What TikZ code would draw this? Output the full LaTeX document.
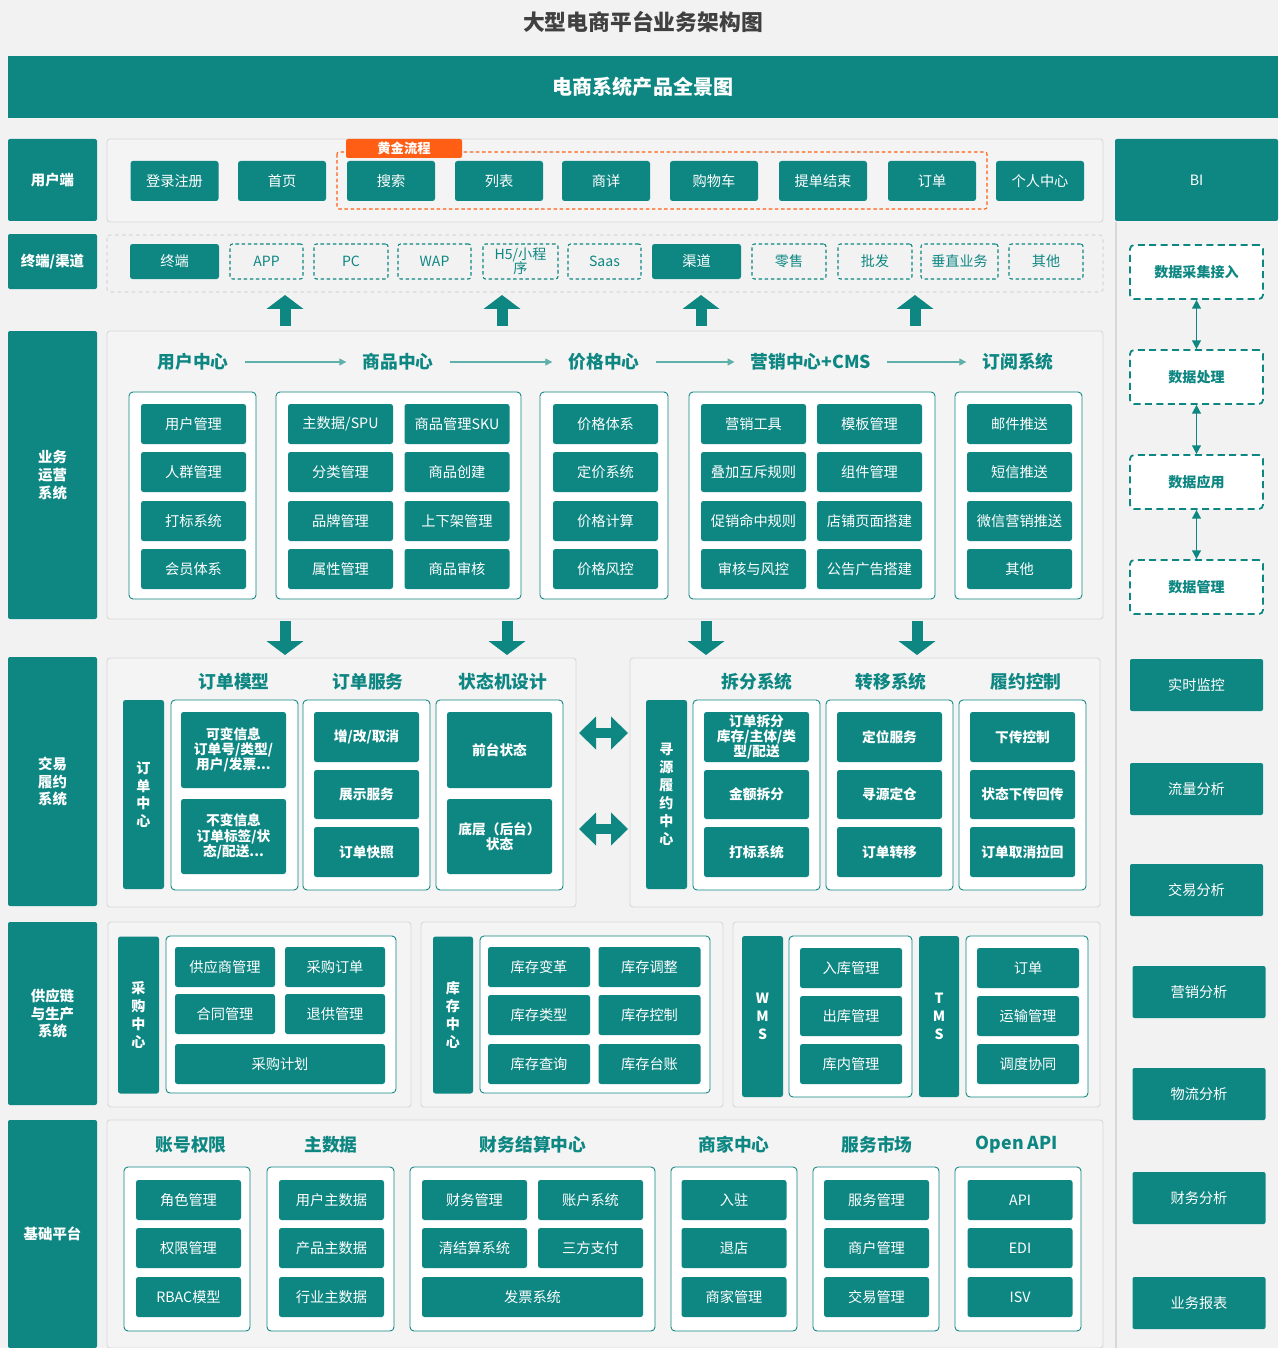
\documentclass[tikz,border=0pt]{standalone}
\usepackage{fontspec}
\setmainfont{Noto Sans CJK SC}
\usetikzlibrary{arrows.meta}

\definecolor{tealc}{RGB}{14,135,131}
\definecolor{bgc}{RGB}{242,242,242}
\definecolor{panelc}{RGB}{244,244,244}
\definecolor{linec}{RGB}{216,216,216}
\definecolor{goldc}{RGB}{255,94,20}
\definecolor{titlec}{RGB}{64,64,64}
\definecolor{flowc}{RGB}{95,175,170}

\begin{document}
\begin{tikzpicture}[x=0.02cm,y=-0.02cm,
    wh/.style 2 args={minimum width=#1*0.02cm,minimum height=#2*0.02cm},
    cell/.style={fill=tealc,text=white,rounded corners=0.05cm,inner sep=1pt,align=center,font=\fontsize{8.1}{9}\selectfont},
    tcell/.style={cell,font=\fontsize{7.8}{8.7}\selectfont\bfseries},
    sidelab/.style={cell,rounded corners=0.04cm,font=\fontsize{8.2}{10.2}\selectfont\bfseries},
    vbar/.style={cell,font=\fontsize{8}{10.2}\selectfont\bfseries},
    ghostcell/.style={draw=tealc,dash pattern=on 2pt off 1.5pt,line width=0.6pt,text=tealc,rounded corners=0.05cm,inner sep=1pt,align=center,font=\fontsize{8}{8.2}\selectfont},
    datacell/.style={draw=tealc,fill=white,line width=1pt,dash pattern=on 4pt off 2.5pt,rounded corners=0.08cm,text=tealc,font=\fontsize{8}{9}\selectfont\bfseries},
    hdr/.style={text=tealc,font=\fontsize{10.1}{12}\selectfont\bfseries},
    panel/.style={draw=linec,fill=panelc,line width=0.5pt,rounded corners=0.06cm},
    grp/.style={draw=tealc,fill=white,line width=0.5pt,rounded corners=0.08cm},
    flow/.style={draw=flowc,line width=0.8pt,-{Triangle[length=4pt,width=4pt]},shorten <=0.2cm,shorten >=0.2cm},
    blk/.style={draw=tealc,line width=0.22cm,-{Triangle[length=0.28cm,width=0.74cm,line width=0pt]}},
    dblk/.style={draw=tealc,line width=0.2cm,{Triangle[length=0.34cm,width=0.66cm,line width=0pt]}-{Triangle[length=0.34cm,width=0.66cm,line width=0pt]}},
    biarrow/.style={draw=tealc,line width=1pt,{Triangle[length=5pt,width=5pt]}-{Triangle[length=5pt,width=5pt]}}]

  \useasboundingbox[fill=bgc] (0,0) rectangle (1278,1348);

  \node[font=\fontsize{12.4}{14}\selectfont\bfseries,text=titlec] (title) at (643,22) {大型电商平台业务架构图};
  \node[fill=tealc,wh={1270}{62},inner sep=0,text=white,font=\fontsize{11.4}{13}\selectfont\bfseries] (banner) at (643,87) {电商系统产品全景图};

  \foreach \n/\y/\h/\t in {s1/180/82/用户端,s2/261.5/55/{终端/渠道},s3/475/288/{业务\\运营\\系统},s4/781.5/249/{交易\\履约\\系统},s5/1013.5/183/{供应链\\与生产\\系统},s6/1234/228/基础平台}
    \node[sidelab,wh={89}{\h}] (\n) at (52.5,\y) {\t};

  \draw[panel] (107,139) rectangle (1103,222);
  \draw[draw=goldc,dash pattern=on 2pt off 1.5pt,line width=0.6pt,rounded corners=0.04cm] (337,152) rectangle (987,209);
  \foreach \n/\x/\t in {a1/174.5/登录注册,a2/282/首页,a3/391/搜索,a4/499/列表,a5/606/商详,a6/714/购物车,a7/823/提单结束,a8/932/订单,a9/1040/个人中心}
    \node[cell,wh={88}{40}] (\n) at (\x,181) {\t};
  \node[fill=goldc,text=white,rounded corners=0.04cm,wh={116}{19},inner sep=0,font=\fontsize{7.6}{8}\selectfont\bfseries] (gold) at (404,148.5) {黄金流程};

  \node[cell,wh={163}{82},rounded corners=0.04cm] (bi) at (1196.5,180) {BI};
  \draw[linec,line width=0.8pt] (1116,222) -- (1116,1348);

  \draw[draw=linec,dash pattern=on 2pt off 2pt,line width=0.6pt,rounded corners=0.06cm] (107,235) rectangle (1103,292);
  \node[cell,wh={89}{35}] (t0) at (174.5,261.5) {终端};
  \node[cell,wh={89}{35}] (c0) at (696.5,261.5) {渠道};
  \foreach \n/\x/\w/\t in {t1/266.5/73/APP,t2/351/74/PC,t3/434.5/73/WAP,t4/520.5/75/{H5/小程\\序},t5/604.5/73/Saas,c1/789/74/零售,c2/875/74/批发,c3/959.5/77/垂直业务,c4/1046/74/其他}
    \node[ghostcell,wh={\w}{35}] (\n) at (\x,261.5) {\t};

  \foreach \i/\x in {1/285,2/502,3/701,4/915} {
    \coordinate (ua\i) at (\x,326);
    \coordinate (ub\i) at (\x,295);
    \draw[blk] (ua\i) -- (ub\i);
  }

  \draw[panel] (107,331) rectangle (1103,619);
  \foreach \n/\x/\t in {h1/193/用户中心,h2/398/商品中心,h3/604/价格中心,h4/811/营销中心+CMS,h5/1018/订阅系统}
    \node[hdr] (\n) at (\x,362) {\t};
  \foreach \a/\b in {h1/h2,h2/h3,h3/h4,h4/h5}
    \draw[flow] (\a) -- (\b);
  \foreach \a/\b in {129/256,276/521,540/668,689/935,955/1082}
    \draw[grp] (\a,392) rectangle (\b,599);
  \foreach \n/\x/\y/\t in {m1/193.5/424/用户管理,m2/193.5/472/人群管理,m3/193.5/521/打标系统,m4/193.5/569/会员体系,
      g1/340.5/424/{主数据/SPU},g2/457/424/商品管理SKU,g3/340.5/472/分类管理,g4/457/472/商品创建,
      g5/340.5/521/品牌管理,g6/457/521/上下架管理,g7/340.5/569/属性管理,g8/457/569/商品审核,
      p1/605.5/424/价格体系,p2/605.5/472/定价系统,p3/605.5/521/价格计算,p4/605.5/569/价格风控,
      k1/753.5/424/营销工具,k2/869.5/424/模板管理,k3/753.5/472/叠加互斥规则,k4/869.5/472/组件管理,
      k5/753.5/521/促销命中规则,k6/869.5/521/店铺页面搭建,k7/753.5/569/审核与风控,k8/869.5/569/公告广告搭建,
      r1/1019.5/424/邮件推送,r2/1019.5/472/短信推送,r3/1019.5/521/微信营销推送,r4/1019.5/569/其他}
    \node[cell,wh={105}{40}] (\n) at (\x,\y) {\t};

  \foreach \i/\x in {1/285,2/507,3/706,4/917} {
    \coordinate (da\i) at (\x,621);
    \coordinate (db\i) at (\x,655);
    \draw[blk] (da\i) -- (db\i);
  }

  \draw[panel] (107,658) rectangle (576,907);
  \draw[panel] (630,658) rectangle (1100,907);
  \node[vbar,wh={41}{189}] (oc) at (143.5,794.5) {订\\单\\中\\心};
  \node[vbar,wh={41}{189}] (sc) at (666.5,794.5) {寻\\源\\履\\约\\中\\心};
  \foreach \n/\x/\t in {o1/234/订单模型,o2/368/订单服务,o3/503/状态机设计,f1/757/拆分系统,f2/891/转移系统,f3/1026/履约控制}
    \node[hdr] (\n) at (\x,682) {\t};
  \foreach \a/\b in {171/298,303/430,436/563,693/820,826/953,959/1086}
    \draw[grp] (\a,700) rectangle (\b,890);
  \node[tcell,wh={105}{76}] (om1) at (233.5,750) {可变信息\\订单号/类型/\\用户/发票...};
  \node[tcell,wh={105}{75}] (om2) at (233.5,836.5) {不变信息\\订单标签/状\\态/配送...};
  \node[tcell,wh={105}{76}] (st1) at (499.5,750) {前台状态};
  \node[tcell,wh={105}{75}] (st2) at (499.5,836.5) {底层（后台）\\状态};
  \foreach \n/\x/\t in {os/366.5/{增/改/取消},fs/756.5/{订单拆分\\库存/主体/类\\型/配送},ft/889.5/定位服务,fc/1022.5/下传控制}
    \node[tcell,wh={105}{50}] (\n1) at (\x,737) {\t};
  \foreach \n/\x/\t in {os/366.5/展示服务,fs/756.5/金额拆分,ft/889.5/寻源定仓,fc/1022.5/状态下传回传}
    \node[tcell,wh={105}{49}] (\n2) at (\x,794.5) {\t};
  \foreach \n/\x/\t in {os/366.5/订单快照,fs/756.5/打标系统,ft/889.5/订单转移,fc/1022.5/订单取消拉回}
    \node[tcell,wh={105}{50}] (\n3) at (\x,852) {\t};
  \foreach \i/\y in {1/733,2/829} {
    \coordinate (la\i) at (579,\y);
    \coordinate (lb\i) at (628,\y);
    \draw[dblk] (la\i) -- (lb\i);
  }

  \draw[panel] (108,922) rectangle (411,1107);
  \draw[panel] (421,922) rectangle (723,1107);
  \draw[panel] (733,922) rectangle (1100,1107);
  \node[vbar,wh={41}{157}] (pc) at (138.5,1015) {采\\购\\中\\心};
  \node[vbar,wh={40}{157}] (ic) at (453,1015) {库\\存\\中\\心};
  \node[vbar,wh={41}{161}] (wms) at (762.5,1016.5) {W\\M\\S};
  \node[vbar,wh={40}{161}] (tms) at (939,1016.5) {T\\M\\S};
  \draw[grp] (166,936) rectangle (396,1093);
  \draw[grp] (480,936) rectangle (710,1093);
  \draw[grp] (789,936) rectangle (912,1097);
  \draw[grp] (966,936) rectangle (1088,1097);
  \foreach \n/\x/\y/\t in {pu1/225/967/供应商管理,pu2/335/967/采购订单,pu3/225/1014/合同管理,pu4/335/1014/退供管理}
    \node[cell,wh={100}{40}] (\n) at (\x,\y) {\t};
  \node[cell,wh={210}{40}] (pu5) at (280,1064) {采购计划};
  \foreach \n/\x/\y/\t in {in1/539/967/库存变革,in2/649.5/967/库存调整,in3/539/1015/库存类型,in4/649.5/1015/库存控制,in5/539/1064/库存查询,in6/649.5/1064/库存台账,
      wm1/851/968/入库管理,wm2/851/1016/出库管理,wm3/851/1064/库内管理,tm1/1028/968/订单,tm2/1028/1016/运输管理,tm3/1028/1064/调度协同}
    \node[cell,wh={102}{40}] (\n) at (\x,\y) {\t};

  \draw[panel] (107,1120) rectangle (1103,1348);
  \foreach \n/\x/\t in {e1/191/账号权限,e2/331/主数据,e3/533/财务结算中心,e4/734/商家中心,e5/877/服务市场,e6/1017/Open API}
    \node[hdr] (\n) at (\x,1145) {\t};
  \foreach \a/\b in {124/250,267/394,410/655,671/797,813/939,955/1081}
    \draw[grp] (\a,1167) rectangle (\b,1331);
  \foreach \n/\x/\y/\t in {z1/188.5/1200/角色管理,z2/188.5/1248/权限管理,z3/188.5/1297/RBAC模型,
      d1/331.5/1200/用户主数据,d2/331.5/1248/产品主数据,d3/331.5/1297/行业主数据,
      f1/474.5/1200/财务管理,f2/590.5/1200/账户系统,f3/474.5/1248/清结算系统,f4/590.5/1248/三方支付,
      b1/734/1200/入驻,b2/734/1248/退店,b3/734/1297/商家管理,
      v1/876.5/1200/服务管理,v2/876.5/1248/商户管理,v3/876.5/1297/交易管理,
      x1/1020/1200/API,x2/1020/1248/EDI,x3/1020/1297/ISV}
    \node[cell,wh={105}{40}] (\n) at (\x,\y) {\t};
  \node[cell,wh={221}{40}] (f5) at (532.5,1297) {发票系统};

  \foreach \n/\y/\t in {bd1/272/数据采集接入,bd2/377/数据处理,bd3/482/数据应用,bd4/587/数据管理}
    \node[datacell,wh={133}{54}] (\n) at (1196.5,\y) {\t};
  \foreach \a/\b in {bd1/bd2,bd2/bd3,bd3/bd4}
    \draw[biarrow] (\a) -- (\b);
  \foreach \n/\x/\y/\t in {an1/1196.5/685/实时监控,an2/1196.5/789/流量分析,an3/1196.5/890/交易分析,an4/1199/992/营销分析,an5/1199/1094/物流分析,an6/1199/1198/财务分析,an7/1199/1303/业务报表}
    \node[cell,wh={133}{52},rounded corners=0.04cm] (\n) at (\x,\y) {\t};
\end{tikzpicture}
\end{document}
